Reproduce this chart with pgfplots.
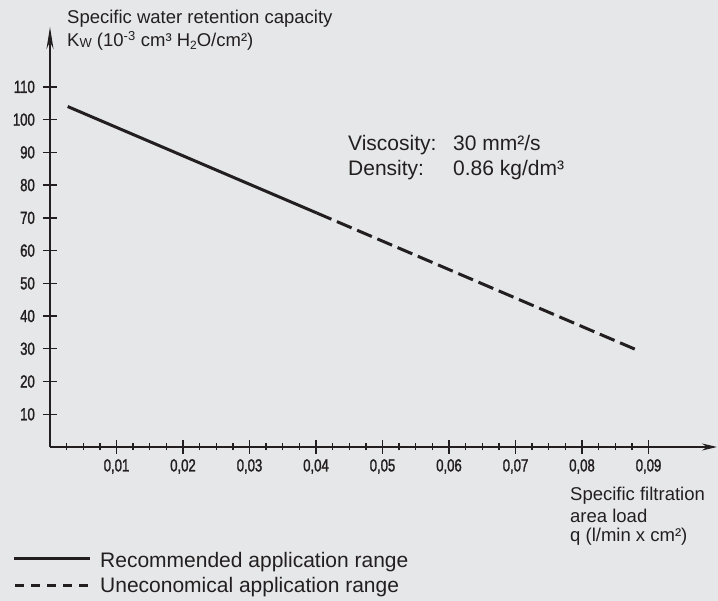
\documentclass[border=0pt]{standalone}
\usepackage{fontspec}
\setmainfont{Liberation Sans}
\newfontfamily\tickfont[FakeStretch=0.75,FakeBold=1.5]{Liberation Sans}
\newcommand\tf{\fontsize{17.5bp}{17.5bp}\selectfont\tickfont}
\usepackage{pgfplots}
\pgfplotsset{compat=1.18}
\usetikzlibrary{arrows.meta}
\definecolor{bg}{HTML}{E6E7E8}
\definecolor{ink}{HTML}{231F20}
\begin{document}
\begin{tikzpicture}[x=1bp,y=1bp]
\fill[bg] (0,0) rectangle (718,601);
\begin{axis}[
  at={(50bp,154bp)}, anchor=south west, scale only axis,
  width=667bp, height=420bp,
  xmin=0, xmax=0.1003, ymin=0, ymax=128.3,
  axis lines=left,
  axis line style={ink, line width=2bp},
  x axis line style={-{Stealth[length=15bp,width=7bp]}},
  y axis line style={-{Stealth[length=22bp,width=7bp]}},
  xtick={0.01,0.02,0.03,0.04,0.05,0.06,0.07,0.08,0.09},
  xticklabels={{0,01},{0,02},{0,03},{0,04},{0,05},{0,06},{0,07},{0,08},{0,09}},
  minor xtick={0.0025,0.005,0.0075,0.0125,0.015,0.0175,0.0225,0.025,0.0275,0.0325,0.035,0.0375,0.0425,0.045,0.0475,0.0525,0.055,0.0575,0.0625,0.065,0.0675,0.0725,0.075,0.0775,0.0825,0.085,0.0875},
  ytick={10,20,30,40,50,60,70,80,90,100,110},
  yticklabels={10,20,30,40,50,60,70,80,90,100,110},
  tick align=center, major tick length=14bp, minor tick length=7bp,
  tick style={ink, line width=1.4bp},
  yticklabel style={font=\tf, text=ink, inner sep=0pt, anchor=east, xshift=-8bp},
  xticklabel style={font=\tf, text=ink, inner sep=0pt, anchor=north, yshift=-5bp},
  clip=false,
]
\addplot[ink, line width=3bp] coordinates {(0.00266,104) (0.0401,71.5)};
\addplot[ink, line width=3bp, dash pattern=on 16bp off 6bp] coordinates {(0.0401,71.5) (0.0884,29.5)};
\end{axis}
\begin{scope}[every node/.style={anchor=base west, inner sep=0pt, text=ink}]
\node[font=\fontsize{18.5bp}{22bp}\selectfont] at (67,577) {Specific water retention capacity};
\node[font=\fontsize{18.5bp}{22bp}\selectfont] at (67,554.3) {K\raisebox{-1bp}{\fontsize{13bp}{13bp}\selectfont W} (10\textsuperscript{-3} cm³ H\raisebox{-3bp}{\fontsize{12bp}{12bp}\selectfont 2}O/cm²)};
\node[font=\fontsize{21bp}{25bp}\selectfont] at (348,450.3) {Viscosity:};
\node[font=\fontsize{21bp}{25bp}\selectfont] at (453,450.3) {30 mm²/s};
\node[font=\fontsize{21bp}{25bp}\selectfont] at (348,425.3) {Density:};
\node[font=\fontsize{21bp}{25bp}\selectfont] at (453,425.3) {0.86 kg/dm³};
\node[font=\fontsize{18.5bp}{22bp}\selectfont] at (570,100.3) {Specific filtration};
\node[font=\fontsize{18.5bp}{22bp}\selectfont] at (570,78.3) {area load};
\node[font=\fontsize{18.5bp}{22bp}\selectfont] at (570,59.3) {q (l/min x cm²)};
\node[font=\fontsize{21bp}{25bp}\selectfont] at (100,33.3) {Recommended application range};
\node[font=\fontsize{21bp}{25bp}\selectfont] at (100,8.3) {Uneconomical application range};
\end{scope}
\draw[ink, line width=3bp] (14,42) -- (90,42);
\draw[ink, line width=2.5bp, dash pattern=on 9bp off 7bp] (15,15.3) -- (90,15.3);
\pgfresetboundingbox
\path[use as bounding box] (0,0) rectangle (718,601);
\end{tikzpicture}
\end{document}
